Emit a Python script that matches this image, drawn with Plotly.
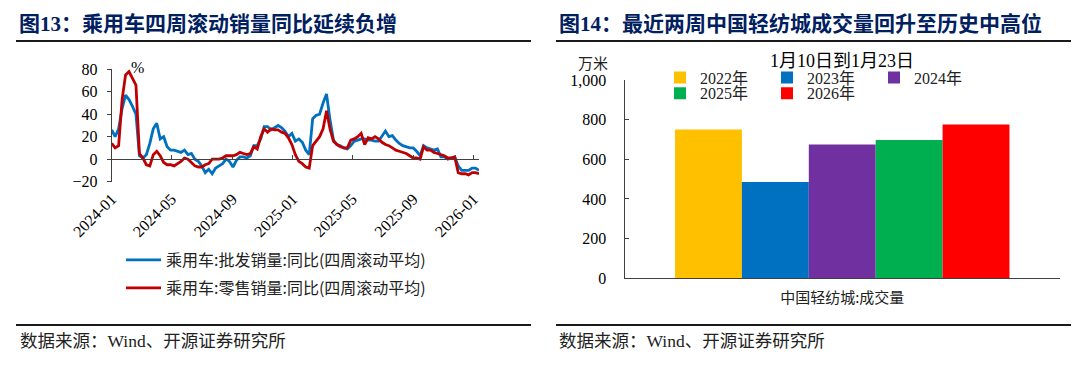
import plotly.graph_objects as go
import pandas as pd

W, H = 1080, 367

# ---------------- data: left chart (weekly, 4-week rolling YoY, %) ----------------
week_start = "2024-01-01"
wholesale_yoy = [
    26, 20, 27, 45, 57, 53, 47, 40, 3, 1,
    4, 14, 27, 32, 18, 20, 11, 8, 8, 7,
    6, 8, 4, 5, 0, -2, -6, -12, -9, -13,
    -8, -6, -4, 0, -2, -7, -1, 2, 2, 1,
    3, 12, 12, 18, 29, 29, 26, 28, 30, 28,
    25, 20, 23, 16, 18, 15, 8, 4, 36, 39,
    40, 50, 58, 35, 17, 13, 12, 10, 9, 12,
    16, 17, 18, 18, 17, 17, 16, 16, 20, 25,
    20, 21, 17, 14, 12, 11, 10, 10, 7, 3,
    12, 10, 9, 8, 9, 2, 2, 0, 1, 2,
    -6, -10, -10, -10, -8, -8, -10,
]
retail_yoy = [
    14, 10, 12, 53, 75, 78, 72, 66, 5, 1,
    -5, -6, 4, 7, 3, -3, -5, -5, -6, -4,
    -2, 1, 0, -3, -6, -7, -7, -5, -4, 0,
    0, 0, 1, 3, 3, 3, 4, 6, 5, 4,
    5, 11, 9, 20, 27, 24, 27, 26, 26, 24,
    23, 19, 13, 4, -2, -4, -7, -8, 12, 16,
    20, 27, 43, 27, 16, 13, 11, 10, 10, 17,
    18, 20, 23, 13, 19, 18, 20, 18, 15, 13,
    12, 10, 8, 7, 6, 5, 3, 1, 1, 0,
    11, 8, 8, 6, 5, 4, 3, 1, 1, 2,
    -12, -13, -13, -14, -12, -12, -13,
]
dates = pd.date_range(week_start, periods=len(wholesale_yoy), freq="7D")
series_names = ["乘用车:批发销量:同比(四周滚动平均)", "乘用车:零售销量:同比(四周滚动平均)"]
line_colors = ["#0070C0", "#C00000"]

# ---------------- data: right chart ----------------
bar_category = ["中国轻纺城:成交量"]
bar_years = ["2022年", "2023年", "2024年", "2025年", "2026年"]
bar_values = [750, 485, 675, 697, 775]
bar_colors = ["#FFC000", "#0070C0", "#7030A0", "#00B050", "#FF0000"]

# ---------------- helpers (pixel -> paper) ----------------
def px(x):
    return x / W

def py(y):
    return 1 - y / H

SERIF = "Liberation Serif, Noto Sans CJK SC"
CJK = "Noto Sans CJK SC"
NAVY = "#002060"
AX = "#404040"

fig = go.Figure()

# left lines
fig.add_trace(go.Scatter(x=dates, y=wholesale_yoy, mode="lines", name=series_names[0],
                         line=dict(color=line_colors[0], width=2.8), xaxis="x", yaxis="y",
                         legend="legend"))
fig.add_trace(go.Scatter(x=dates, y=retail_yoy, mode="lines", name=series_names[1],
                         line=dict(color=line_colors[1], width=2.8), xaxis="x", yaxis="y",
                         legend="legend2"))
# carrier trace for the zero-line axis
fig.add_trace(go.Scatter(x=[dates[0]], y=[None], mode="lines", showlegend=False,
                         hoverinfo="skip", xaxis="x2", yaxis="y"))

# right bars
for i, (yr, v, c) in enumerate(zip(bar_years, bar_values, bar_colors)):
    fig.add_trace(go.Bar(x=bar_category, y=[v], name=yr, marker=dict(color=c, line=dict(width=0)),
                         xaxis="x3", yaxis="y3",
                         legend="legend3" if i < 3 else "legend4"))

left_dom_x = [px(111.7), px(479)]
left_dom_y = [py(181.6), py(69.3)]
zero_pos = left_dom_y[0] + (0 - (-20)) / 100 * (left_dom_y[1] - left_dom_y[0])
xr = [dates[0], dates[-1]]

fig.update_layout(
    width=W, height=H, margin=dict(l=0, r=0, t=0, b=0, autoexpand=False),
    paper_bgcolor="white", plot_bgcolor="white",
    barmode="group", bargap=0.232, bargroupgap=0,
    xaxis=dict(domain=left_dom_x, anchor="y", type="date", range=xr, automargin=False,
               tick0="2024-01-01", dtick="M4", tickformat="%Y-%m", tickangle=-45,
               showline=False, ticks="", showgrid=False, zeroline=False,
               tickfont=dict(family=SERIF, size=16, color="black"), ticklabelstandoff=4),
    xaxis2=dict(overlaying="x", anchor="free", position=zero_pos, type="date", range=xr,
                automargin=False,
                tick0="2024-01-01", dtick="M4", showline=True, linecolor=AX, linewidth=1,
                ticks="inside", ticklen=4, tickcolor=AX, showticklabels=False,
                showgrid=False, zeroline=False, side="bottom"),
    yaxis=dict(domain=left_dom_y, anchor="x", range=[-20, 80], dtick=20, automargin=False,
               showline=True, linecolor=AX, linewidth=1, ticks="outside", ticklen=4,
               tickcolor=AX, showgrid=False, zeroline=False,
               tickfont=dict(family=SERIF, size=16, color="black"), ticklabelstandoff=6),
    xaxis3=dict(domain=[px(624.5), px(1060)], anchor="y3", type="category", automargin=False,
                showline=True, linecolor=AX, linewidth=1, ticks="", showgrid=False,
                tickfont=dict(family=CJK, size=15, color="#222"), ticklabelstandoff=6),
    yaxis3=dict(domain=[py(278.3), py(80)], anchor="x3", range=[0, 1000], dtick=200,
                automargin=False,
                tickformat=",", showline=True, linecolor=AX, linewidth=1,
                ticks="inside", ticklen=4, tickcolor=AX, showgrid=False, zeroline=False,
                tickfont=dict(family=SERIF, size=16, color="black"), ticklabelstandoff=14),
    legend=dict(x=px(121), y=py(260), xanchor="left", yanchor="middle", itemwidth=35,
                bgcolor="rgba(0,0,0,0)", font=dict(family=CJK, size=16, color="#222")),
    legend2=dict(x=px(121), y=py(288), xanchor="left", yanchor="middle", itemwidth=35,
                 bgcolor="rgba(0,0,0,0)", font=dict(family=CJK, size=16, color="#222")),
    legend3=dict(x=px(660), y=py(77.7), xanchor="left", yanchor="middle", orientation="h",
                 entrywidth=62, entrywidthmode="pixels",
                 bgcolor="rgba(0,0,0,0)", font=dict(family=SERIF, size=16, color="#222")),
    legend4=dict(x=px(660), y=py(93.3), xanchor="left", yanchor="middle", orientation="h",
                 entrywidth=62, entrywidthmode="pixels",
                 bgcolor="rgba(0,0,0,0)", font=dict(family=SERIF, size=16, color="#222")),
    showlegend=True,
)

annotations = [
    dict(x=px(17), y=py(24), text="<b>图13：乘用车四周滚动销量同比延续负增</b>",
         font=dict(family=SERIF, size=21, color=NAVY), xanchor="left", yanchor="middle"),
    dict(x=px(557), y=py(24), text="<b>图14：最近两周中国轻纺城成交量回升至历史中高位</b>",
         font=dict(family=SERIF, size=21, color=NAVY), xanchor="left", yanchor="middle"),
    dict(x=px(137), y=py(68), text="%", font=dict(family=SERIF, size=16, color="black"),
         xanchor="center", yanchor="middle"),
    dict(x=px(593), y=py(62), text="万米", font=dict(family=CJK, size=15, color="#222"),
         xanchor="center", yanchor="middle"),
    dict(x=px(842), y=py(61), text="1月10日到1月23日", font=dict(family=SERIF, size=18, color="black"),
         xanchor="center", yanchor="middle"),
    dict(x=px(18), y=py(341), text="数据来源：Wind、开源证券研究所",
         font=dict(family=SERIF, size=17.5, color="#222"), xanchor="left", yanchor="middle"),
    dict(x=px(557), y=py(341), text="数据来源：Wind、开源证券研究所",
         font=dict(family=SERIF, size=17.5, color="#222"), xanchor="left", yanchor="middle"),
]
for a in annotations:
    a.update(xref="paper", yref="paper", showarrow=False)
fig.update_layout(annotations=annotations)

shapes = []
for (x0, x1) in [(16, 531), (556, 1071)]:
    for yy in (41, 325):
        shapes.append(dict(type="line", xref="paper", yref="paper",
                           x0=px(x0), x1=px(x1), y0=py(yy), y1=py(yy),
                           line=dict(color="#1a1a1a", width=2)))
fig.update_layout(shapes=shapes)

fig.write_html("out.html", include_plotlyjs=True, config={"displayModeBar": False},
               post_script="document.body.style.margin='0';document.body.style.overflow='hidden';")
